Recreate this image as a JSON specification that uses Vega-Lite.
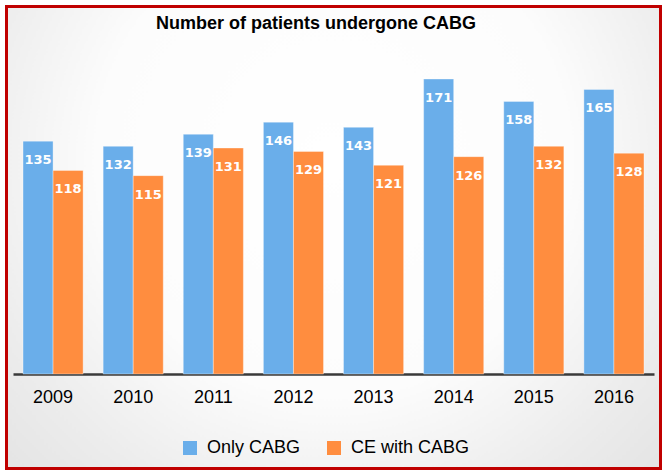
{
  "$schema": "https://vega.github.io/schema/vega-lite/v6.json",
  "width": 654,
  "height": 462,
  "autosize": {"type": "none"},
  "padding": {"left": 6.5, "top": 6.5, "right": 1.5, "bottom": 1.5},
  "background": "#ffffff",
  "config": {
    "view": {
      "stroke": "#c00000",
      "strokeWidth": 3,
      "fill": {
        "gradient": "radial",
        "x1": 0.5, "y1": 0.38, "r1": 0,
        "x2": 0.5, "y2": 0.38, "r2": 0.72,
        "stops": [
          {"offset": 0, "color": "#ffffff"},
          {"offset": 0.5, "color": "#fcfcfc"},
          {"offset": 0.78, "color": "#ececec"},
          {"offset": 1, "color": "#e2e2e2"}
        ]
      }
    }
  },
  "title": {
    "text": "Number of patients undergone CABG",
    "font": "Liberation Sans",
    "fontSize": 18,
    "fontWeight": "bold",
    "color": "#000000",
    "anchor": "middle",
    "frame": "bounds",
    "offset": 0,
    "baseline": "alphabetic",
    "dx": -17.5,
    "dy": 40.5
  },
  "data": {
    "values": [
      {"year": "2009", "series": "Only CABG", "value": 135},
      {"year": "2009", "series": "CE with CABG", "value": 118},
      {"year": "2010", "series": "Only CABG", "value": 132},
      {"year": "2010", "series": "CE with CABG", "value": 115},
      {"year": "2011", "series": "Only CABG", "value": 139},
      {"year": "2011", "series": "CE with CABG", "value": 131},
      {"year": "2012", "series": "Only CABG", "value": 146},
      {"year": "2012", "series": "CE with CABG", "value": 129},
      {"year": "2013", "series": "Only CABG", "value": 143},
      {"year": "2013", "series": "CE with CABG", "value": 121},
      {"year": "2014", "series": "Only CABG", "value": 171},
      {"year": "2014", "series": "CE with CABG", "value": 126},
      {"year": "2015", "series": "Only CABG", "value": 158},
      {"year": "2015", "series": "CE with CABG", "value": 132},
      {"year": "2016", "series": "Only CABG", "value": 165},
      {"year": "2016", "series": "CE with CABG", "value": 128}
    ]
  },
  "encoding": {
    "x": {
      "field": "year",
      "type": "nominal",
      "scale": {"range": [6.5, 647.5], "paddingInner": 0.25, "paddingOuter": 0.125},
      "axis": {
        "title": null,
        "orient": "bottom",
        "offset": -94.5,
        "labelAngle": 0,
        "ticks": false,
        "labelPadding": 14,
        "labelFont": "Liberation Sans",
        "labelFontSize": 18,
        "labelColor": "#000000",
        "domainColor": "#3a3a3a",
        "domainWidth": 2.5,
        "grid": false
      }
    },
    "xOffset": {
      "field": "series",
      "type": "nominal",
      "scale": {"domain": ["Only CABG", "CE with CABG"], "paddingInner": 0, "paddingOuter": 0}
    },
    "y": {
      "field": "value",
      "type": "quantitative",
      "scale": {"domain": [0, 200], "range": [367.5, 22.5], "nice": false},
      "axis": null
    }
  },
  "layer": [
    {
      "mark": {"type": "bar", "stroke": "#ffffff", "strokeOpacity": 0.35, "strokeWidth": 1},
      "encoding": {
        "color": {
          "field": "series",
          "type": "nominal",
          "scale": {"domain": ["Only CABG", "CE with CABG"], "range": ["#6aaeea", "#ff8d3f"]},
          "legend": {
            "title": null,
            "orient": "none",
            "direction": "horizontal",
            "legendX": 174.5,
            "legendY": 432.5,
            "padding": 0,
            "symbolType": "square",
            "symbolSize": 196,
            "symbolStrokeWidth": 0,
            "labelFont": "Liberation Sans",
            "labelFontSize": 18,
            "labelColor": "#000000",
            "labelOffset": 8,
            "columnPadding": 24
          }
        }
      }
    },
    {
      "mark": {
        "type": "text",
        "color": "#ffffff",
        "font": "DejaVu Sans",
        "fontWeight": "bold",
        "fontSize": 13,
        "baseline": "alphabetic",
        "align": "center",
        "dy": 23
      },
      "encoding": {
        "text": {"field": "value", "type": "quantitative"}
      }
    }
  ]
}
